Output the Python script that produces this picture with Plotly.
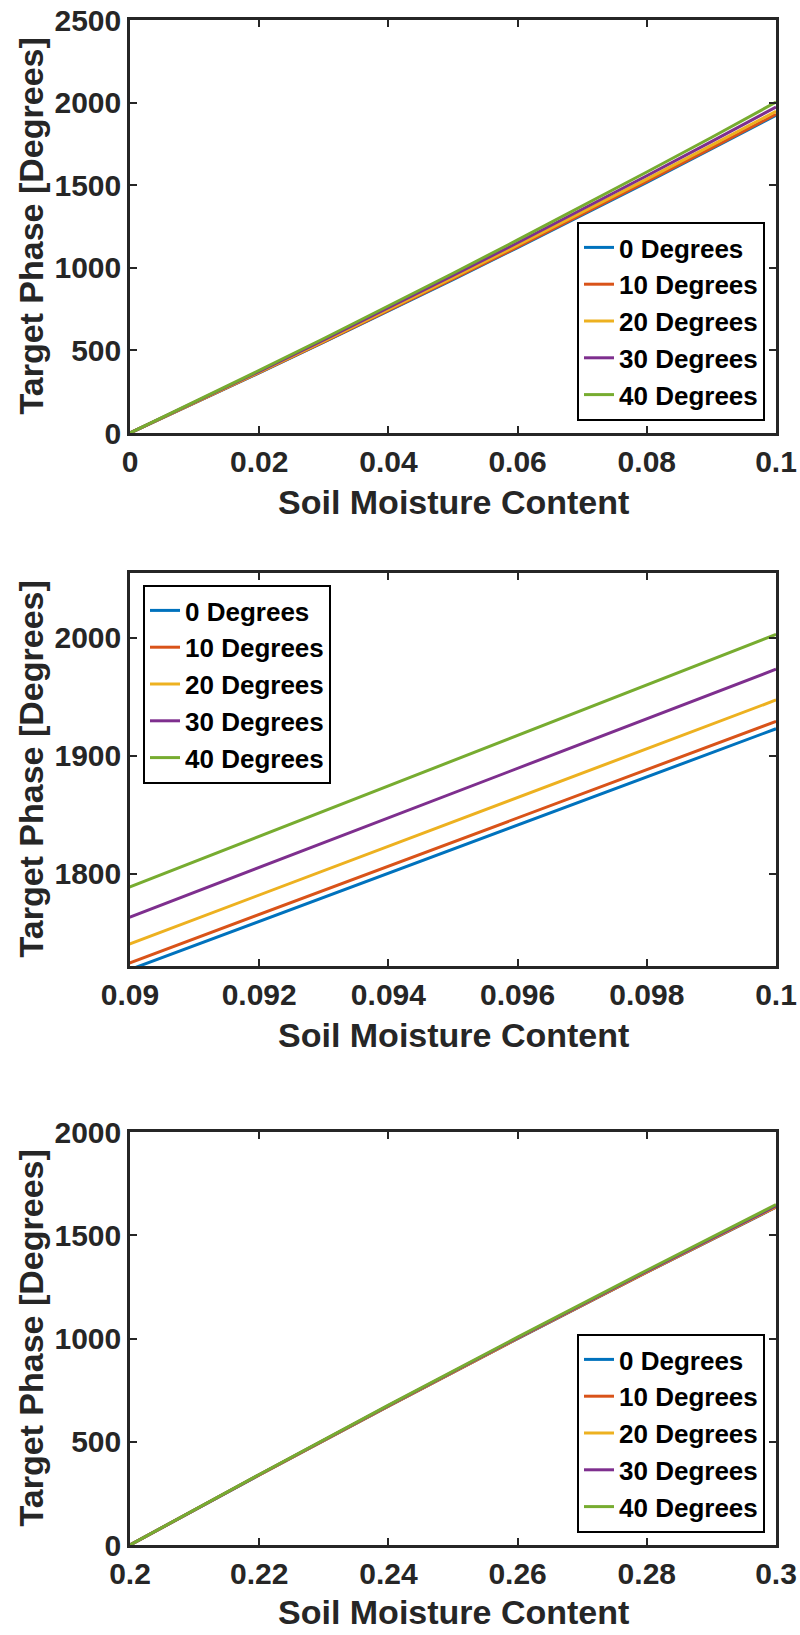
import plotly.graph_objects as go

# ---------------- data ----------------
names = ["0 Degrees", "10 Degrees", "20 Degrees", "30 Degrees", "40 Degrees"]
colors = ["#0072BD", "#D95319", "#EDB120", "#7E2F8E", "#77AC30"]

# Panels 1 & 2 (panel 2 is a zoom of the same curves)
moisture_low = [0, 0.01, 0.02, 0.03, 0.04, 0.05, 0.06, 0.07, 0.08, 0.09, 0.1]
phase_low_0 = [0, 180.6, 363.8, 549.6, 738.0, 929.0, 1122.6, 1318.8, 1517.6, 1719.0, 1923.0]
phase_low_10 = [0, 181.2, 365.0, 551.4, 740.4, 932.1, 1126.3, 1323.2, 1522.6, 1724.7, 1929.3]
phase_low_20 = [0, 182.9, 368.4, 556.6, 747.4, 940.8, 1136.9, 1335.5, 1536.9, 1740.8, 1947.4]
phase_low_30 = [0, 185.3, 373.3, 563.9, 757.2, 953.2, 1151.8, 1353.1, 1557.1, 1763.5, 1973.5]
phase_low_40 = [0, 188.0, 378.7, 572.1, 768.3, 967.1, 1168.6, 1372.9, 1579.8, 1789.0, 2003.0]

# Panel 3
moisture_high = [0.2, 0.22, 0.24, 0.26, 0.28, 0.3]
phase_high_0 = [0, 339.1, 672.3, 999.5, 1320.8, 1636]
phase_high_10 = [0, 339.4, 672.7, 1000.1, 1321.5, 1637]
phase_high_20 = [0, 339.8, 673.5, 1001.3, 1323.2, 1639]
phase_high_30 = [0, 340.4, 674.7, 1003.1, 1325.6, 1642]
phase_high_40 = [0, 341.6, 677.2, 1006.8, 1330.4, 1648]

low_series = [phase_low_0, phase_low_10, phase_low_20, phase_low_30, phase_low_40]
high_series = [phase_high_0, phase_high_10, phase_high_20, phase_high_30, phase_high_40]

x1_ticks = [0, 0.02, 0.04, 0.06, 0.08, 0.1]
x1_labels = ["0", "0.02", "0.04", "0.06", "0.08", "0.1"]
y1_ticks = [0, 500, 1000, 1500, 2000, 2500]
x2_ticks = [0.09, 0.092, 0.094, 0.096, 0.098, 0.1]
x2_labels = ["0.09", "0.092", "0.094", "0.096", "0.098", "0.1"]
y2_ticks = [1800, 1900, 2000]
x3_ticks = [0.2, 0.22, 0.24, 0.26, 0.28, 0.3]
x3_labels = ["0.2", "0.22", "0.24", "0.26", "0.28", "0.3"]
y3_ticks = [0, 500, 1000, 1500, 2000]

xlabel = "Soil Moisture Content"
ylabel = "Target Phase [Degrees]"

# ---------------- figure ----------------
W, H = 800, 1635
FONT = "Liberation Sans, Arial, Helvetica, sans-serif"
AXC = "#262626"

fig = go.Figure()

for i in range(5):
    fig.add_trace(go.Scatter(x=moisture_low, y=low_series[i], mode="lines", name=names[i],
                             line=dict(color=colors[i], width=3), xaxis="x", yaxis="y",
                             legend="legend"))
for i in range(5):
    fig.add_trace(go.Scatter(x=moisture_low, y=low_series[i], mode="lines", name=names[i],
                             line=dict(color=colors[i], width=3), xaxis="x2", yaxis="y2",
                             legend="legend2"))
for i in range(5):
    fig.add_trace(go.Scatter(x=moisture_high, y=high_series[i], mode="lines", name=names[i],
                             line=dict(color=colors[i], width=3), xaxis="x3", yaxis="y3",
                             legend="legend3"))

xdom = [130 / W, 776 / W]
panels = [(20, 433), (573, 966), (1132, 1545)]


def ydom(top, bot):
    return [1 - bot / H, 1 - top / H]


def axis_common():
    return dict(showline=True, linecolor=AXC, linewidth=2.5, mirror="allticks",
                ticks="inside", ticklen=7, tickwidth=2, tickcolor=AXC,
                showgrid=False, zeroline=False, automargin=False,
                tickfont=dict(family=FONT, size=30, color=AXC, weight="bold"))


fig.update_layout(
    xaxis=dict(domain=xdom, range=[0, 0.1], tickvals=x1_ticks, ticktext=x1_labels,
               anchor="y", **axis_common()),
    yaxis=dict(domain=ydom(*panels[0]), range=[0, 2500], tickvals=y1_ticks,
               anchor="x", **axis_common()),
    xaxis2=dict(domain=xdom, range=[0.09, 0.1], tickvals=x2_ticks, ticktext=x2_labels,
                anchor="y2", **axis_common()),
    yaxis2=dict(domain=ydom(*panels[1]), range=[1722, 2055], tickvals=y2_ticks,
                anchor="x2", **axis_common()),
    xaxis3=dict(domain=xdom, range=[0.2, 0.3], tickvals=x3_ticks, ticktext=x3_labels,
                anchor="y3", **axis_common()),
    yaxis3=dict(domain=ydom(*panels[2]), range=[0, 2000], tickvals=y3_ticks,
                anchor="x3", **axis_common()),
)

leg_common = dict(font=dict(family=FONT, size=26, color="black", weight="bold"),
                  bgcolor="white", bordercolor="black", borderwidth=2,
                  itemwidth=30, tracegroupgap=0)
fig.update_layout(
    legend=dict(x=765 / W, y=1 - 421 / H, xanchor="right", yanchor="bottom", **leg_common),
    legend2=dict(x=143 / W, y=1 - 585 / H, xanchor="left", yanchor="top", **leg_common),
    legend3=dict(x=765 / W, y=1 - 1533 / H, xanchor="right", yanchor="bottom", **leg_common),
)

annotations = []
for (top, bot), xt in zip(panels, [502, 1035, 1612]):
    annotations.append(dict(text=xlabel, x=453 / W, y=1 - xt / H, xref="paper", yref="paper",
                            xanchor="center", yanchor="middle", showarrow=False,
                            font=dict(family=FONT, size=34, color=AXC, weight="bold")))
    annotations.append(dict(text=ylabel, x=30 / W, y=1 - (top + bot) / 2 / H, xref="paper",
                            yref="paper", xanchor="center", yanchor="middle", showarrow=False,
                            textangle=-90,
                            font=dict(family=FONT, size=34, color=AXC, weight="bold")))

fig.update_layout(annotations=annotations, width=W, height=H,
                  margin=dict(l=0, r=0, t=0, b=0), paper_bgcolor="white",
                  plot_bgcolor="white", showlegend=True)

fig.write_html("out.html")
